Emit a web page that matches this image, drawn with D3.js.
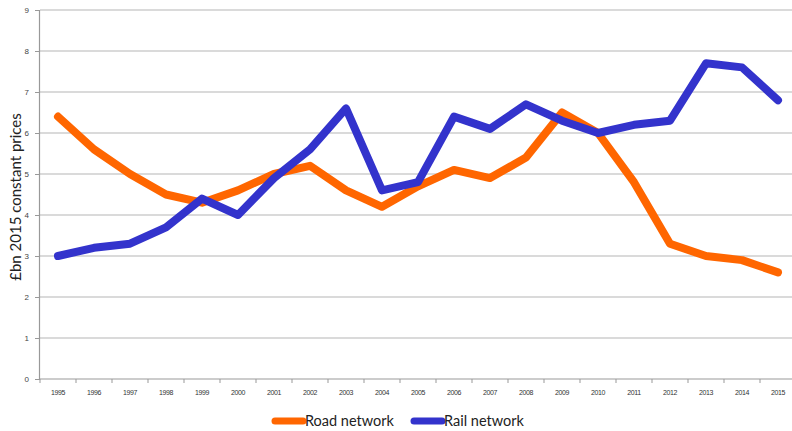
<!DOCTYPE html>
<html>
<head>
<meta charset="utf-8">
<script src="https://cdn.jsdelivr.net/npm/d3@7"></script>
<style>
  html, body { margin: 0; padding: 0; background: #fff; }
  svg { display: block; }
</style>
</head>
<body>
<svg id="chart" width="792" height="431"></svg>
<script>
// Years on the category axis
const years = ["1995","1996","1997","1998","1999","2000","2001","2002","2003","2004",
               "2005","2006","2007","2008","2009","2010","2011","2012","2013","2014","2015"];
// Investment, £bn at 2015 constant prices
const roadNetwork = [6.4,5.6,5.0,4.5,4.3,4.6,5.0,5.2,4.6,4.2,4.7,5.1,4.9,5.4,6.5,6.0,4.8,3.3,3.0,2.9,2.6];
const railNetwork = [3.0,3.2,3.3,3.7,4.4,4.0,4.9,5.6,6.6,4.6,4.8,6.4,6.1,6.7,6.3,6.0,6.2,6.3,7.7,7.6,6.8];
const yTicks = [0,1,2,3,4,5,6,7,8,9];
const seriesNames = ["Road network", "Rail network"];
const seriesColors = ["#ff6600", "#3333cc"];

const svg = d3.select("#chart");
const plotLeft = 40, plotRight = 796, plotTop = 10, plotBottom = 379;

const x = d3.scaleBand().domain(years).range([plotLeft, plotRight]);
const y = d3.scaleLinear().domain([0, 9]).range([plotBottom, plotTop]);

// Horizontal gridlines
svg.append("g").selectAll("line").data(yTicks.filter(d => d > 0)).join("line")
  .attr("x1", plotLeft).attr("x2", 792)
  .attr("y1", d => y(d)).attr("y2", d => y(d))
  .attr("stroke", "#b5b5b5").attr("stroke-width", 1.2);

// Y axis
const yAxis = svg.append("g").attr("transform", `translate(${plotLeft - 1},0)`)
  .call(d3.axisLeft(y).tickValues(yTicks).tickSize(4).tickPadding(6).tickFormat(d3.format("d")));
yAxis.select(".domain").attr("stroke", "#999").attr("stroke-width", 1.2);
yAxis.selectAll(".tick line").attr("stroke", "#999");
yAxis.selectAll("text").attr("font-family", "Liberation Sans, Arial, sans-serif")
  .attr("font-size", 8).attr("fill", "#444");

// X axis with ticks between categories
const xAxis = svg.append("g").attr("transform", `translate(0,${plotBottom})`);
xAxis.append("line").attr("x1", plotLeft - 1).attr("x2", 792).attr("y1", 0).attr("y2", 0)
  .attr("stroke", "#999").attr("stroke-width", 1.2);
xAxis.selectAll("line.tk").data(years).join("line").attr("class", "tk")
  .attr("x1", d => x(d)).attr("x2", d => x(d)).attr("y1", 0).attr("y2", 4)
  .attr("stroke", "#999");
xAxis.selectAll("text").data(years).join("text")
  .attr("x", d => x(d) + x.bandwidth() / 2).attr("y", 16)
  .attr("text-anchor", "middle")
  .attr("font-family", "Liberation Sans Narrow, Liberation Sans, Arial, sans-serif")
  .attr("font-size", 7).attr("letter-spacing", -0.4).attr("fill", "#333")
  .text(d => d);

// Y axis title
svg.append("text")
  .attr("transform", "translate(21,197) rotate(-90)")
  .attr("text-anchor", "middle")
  .attr("font-family", "Lato, Open Sans, sans-serif")
  .attr("font-size", 15).attr("fill", "#222")
  .text("£bn 2015 constant prices");

// Series lines
const line = d3.line()
  .x((d, i) => x(years[i]) + x.bandwidth() / 2)
  .y(d => y(d));

[roadNetwork, railNetwork].forEach((vals, k) => {
  svg.append("path").datum(vals)
    .attr("d", line)
    .attr("fill", "none")
    .attr("stroke", seriesColors[k])
    .attr("stroke-width", 8)
    .attr("stroke-linejoin", "round")
    .attr("stroke-linecap", "round");
});

// Legend
const legend = svg.append("g");
const legendX = [275, 414];
seriesNames.forEach((name, k) => {
  const g = legend.append("g").attr("transform", `translate(${legendX[k]},421)`);
  g.append("line").attr("x1", 0).attr("x2", 28).attr("y1", 0).attr("y2", 0)
    .attr("stroke", seriesColors[k]).attr("stroke-width", 7).attr("stroke-linecap", "round");
  g.append("text").attr("x", 30).attr("y", 5)
    .attr("font-family", "Lato, Open Sans, sans-serif")
    .attr("font-size", 14.5).attr("fill", "#222")
    .text(name);
});
</script>
</body>
</html>
